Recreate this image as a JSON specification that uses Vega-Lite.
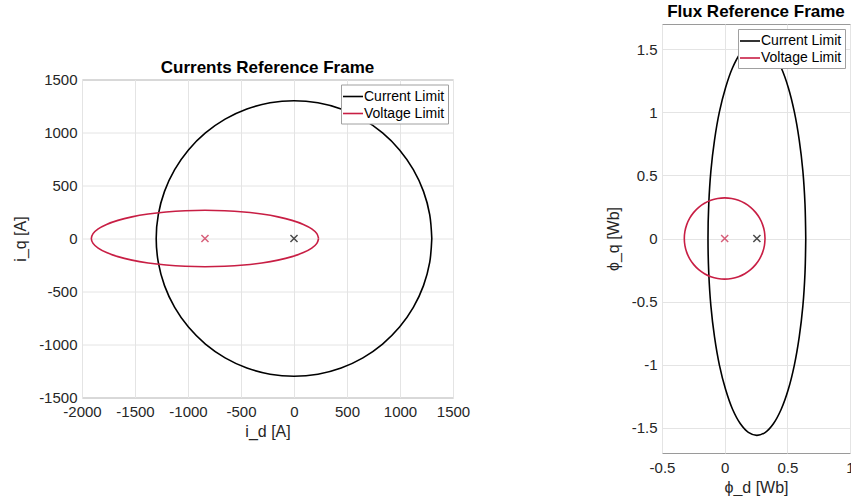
{
  "$schema": "https://vega.github.io/schema/vega-lite/v6.json",
  "padding": {"left": 12, "top": 2, "right": 0, "bottom": 0},
  "background": "white",
  "config": {
    "font": "Liberation Sans",
    "view": {"stroke": "#9a9a9a", "strokeWidth": 1},
    "axis": {
      "grid": true, "gridColor": "#e4e4e4", "gridWidth": 1,
      "domain": false, "ticks": false, "labelOverlap": false, "labelFlush": false,
      "labelFont": "Liberation Sans", "labelFontSize": 15, "labelColor": "#262626",
      "titleFont": "Liberation Sans", "titleFontSize": 16, "titleFontWeight": "normal", "titleColor": "#262626",
      "labelExpr": "toString(datum.value)"
    },
    "title": {"font": "Liberation Sans", "fontSize": 17, "fontWeight": "bold", "color": "#000000", "anchor": "middle", "offset": 3},
    "legend": {
      "orient": "top-right", "offset": 5, "fillColor": "white", "strokeColor": "#a0a0a0",
      "padding": 3, "rowPadding": 1, "labelFont": "Liberation Sans", "labelFontSize": 14, "labelColor": "#000000",
      "symbolType": "M-1.25,0L1.25,0", "symbolSize": 256, "symbolStrokeWidth": 1.6, "labelOffset": 2, "title": null
    }
  },
  "datasets": {
    "leftLines": [
      {"series": "Current Limit", "k": 0, "x": 1300, "y": 0},
      {"series": "Current Limit", "k": 1, "x": 1280.2, "y": 225.7},
      {"series": "Current Limit", "k": 2, "x": 1221.6, "y": 444.6},
      {"series": "Current Limit", "k": 3, "x": 1125.8, "y": 650},
      {"series": "Current Limit", "k": 4, "x": 995.8, "y": 835.6},
      {"series": "Current Limit", "k": 5, "x": 835.6, "y": 995.8},
      {"series": "Current Limit", "k": 6, "x": 650, "y": 1125.8},
      {"series": "Current Limit", "k": 7, "x": 444.6, "y": 1221.6},
      {"series": "Current Limit", "k": 8, "x": 225.7, "y": 1280.2},
      {"series": "Current Limit", "k": 9, "x": 0, "y": 1300},
      {"series": "Current Limit", "k": 10, "x": -225.7, "y": 1280.2},
      {"series": "Current Limit", "k": 11, "x": -444.6, "y": 1221.6},
      {"series": "Current Limit", "k": 12, "x": -650, "y": 1125.8},
      {"series": "Current Limit", "k": 13, "x": -835.6, "y": 995.8},
      {"series": "Current Limit", "k": 14, "x": -995.8, "y": 835.6},
      {"series": "Current Limit", "k": 15, "x": -1125.8, "y": 650},
      {"series": "Current Limit", "k": 16, "x": -1221.6, "y": 444.6},
      {"series": "Current Limit", "k": 17, "x": -1280.2, "y": 225.7},
      {"series": "Current Limit", "k": 18, "x": -1300, "y": 0},
      {"series": "Current Limit", "k": 19, "x": -1280.2, "y": -225.7},
      {"series": "Current Limit", "k": 20, "x": -1221.6, "y": -444.6},
      {"series": "Current Limit", "k": 21, "x": -1125.8, "y": -650},
      {"series": "Current Limit", "k": 22, "x": -995.8, "y": -835.6},
      {"series": "Current Limit", "k": 23, "x": -835.6, "y": -995.8},
      {"series": "Current Limit", "k": 24, "x": -650, "y": -1125.8},
      {"series": "Current Limit", "k": 25, "x": -444.6, "y": -1221.6},
      {"series": "Current Limit", "k": 26, "x": -225.7, "y": -1280.2},
      {"series": "Current Limit", "k": 27, "x": 0, "y": -1300},
      {"series": "Current Limit", "k": 28, "x": 225.7, "y": -1280.2},
      {"series": "Current Limit", "k": 29, "x": 444.6, "y": -1221.6},
      {"series": "Current Limit", "k": 30, "x": 650, "y": -1125.8},
      {"series": "Current Limit", "k": 31, "x": 835.6, "y": -995.8},
      {"series": "Current Limit", "k": 32, "x": 995.8, "y": -835.6},
      {"series": "Current Limit", "k": 33, "x": 1125.8, "y": -650},
      {"series": "Current Limit", "k": 34, "x": 1221.6, "y": -444.6},
      {"series": "Current Limit", "k": 35, "x": 1280.2, "y": -225.7},
      {"series": "Current Limit", "k": 36, "x": 1300, "y": 0},
      {"series": "Voltage Limit", "k": 0, "x": 232, "y": 0},
      {"series": "Voltage Limit", "k": 1, "x": 215.7, "y": 46.2},
      {"series": "Voltage Limit", "k": 2, "x": 167.4, "y": 91},
      {"series": "Voltage Limit", "k": 3, "x": 88.4, "y": 133},
      {"series": "Voltage Limit", "k": 4, "x": -18.8, "y": 171},
      {"series": "Voltage Limit", "k": 5, "x": -150.9, "y": 203.8},
      {"series": "Voltage Limit", "k": 6, "x": -304, "y": 230.4},
      {"series": "Voltage Limit", "k": 7, "x": -473.4, "y": 250},
      {"series": "Voltage Limit", "k": 8, "x": -653.9, "y": 262},
      {"series": "Voltage Limit", "k": 9, "x": -840, "y": 266},
      {"series": "Voltage Limit", "k": 10, "x": -1026.1, "y": 262},
      {"series": "Voltage Limit", "k": 11, "x": -1206.6, "y": 250},
      {"series": "Voltage Limit", "k": 12, "x": -1376, "y": 230.4},
      {"series": "Voltage Limit", "k": 13, "x": -1529.1, "y": 203.8},
      {"series": "Voltage Limit", "k": 14, "x": -1661.2, "y": 171},
      {"series": "Voltage Limit", "k": 15, "x": -1768.4, "y": 133},
      {"series": "Voltage Limit", "k": 16, "x": -1847.4, "y": 91},
      {"series": "Voltage Limit", "k": 17, "x": -1895.7, "y": 46.2},
      {"series": "Voltage Limit", "k": 18, "x": -1912, "y": 0},
      {"series": "Voltage Limit", "k": 19, "x": -1895.7, "y": -46.2},
      {"series": "Voltage Limit", "k": 20, "x": -1847.4, "y": -91},
      {"series": "Voltage Limit", "k": 21, "x": -1768.4, "y": -133},
      {"series": "Voltage Limit", "k": 22, "x": -1661.2, "y": -171},
      {"series": "Voltage Limit", "k": 23, "x": -1529.1, "y": -203.8},
      {"series": "Voltage Limit", "k": 24, "x": -1376, "y": -230.4},
      {"series": "Voltage Limit", "k": 25, "x": -1206.6, "y": -250},
      {"series": "Voltage Limit", "k": 26, "x": -1026.1, "y": -262},
      {"series": "Voltage Limit", "k": 27, "x": -840, "y": -266},
      {"series": "Voltage Limit", "k": 28, "x": -653.9, "y": -262},
      {"series": "Voltage Limit", "k": 29, "x": -473.4, "y": -250},
      {"series": "Voltage Limit", "k": 30, "x": -304, "y": -230.4},
      {"series": "Voltage Limit", "k": 31, "x": -150.9, "y": -203.8},
      {"series": "Voltage Limit", "k": 32, "x": -18.8, "y": -171},
      {"series": "Voltage Limit", "k": 33, "x": 88.4, "y": -133},
      {"series": "Voltage Limit", "k": 34, "x": 167.4, "y": -91},
      {"series": "Voltage Limit", "k": 35, "x": 215.7, "y": -46.2},
      {"series": "Voltage Limit", "k": 36, "x": 232, "y": 0}
    ],
    "leftMarks": [
      {"series": "Current Limit", "x": 0, "y": 0},
      {"series": "Voltage Limit", "x": -840, "y": 0}
    ],
    "rightLines": [
      {"series": "Current Limit", "k": 0, "x": 0.647, "y": 0},
      {"series": "Current Limit", "k": 1, "x": 0.641, "y": 0.271},
      {"series": "Current Limit", "k": 2, "x": 0.624, "y": 0.534},
      {"series": "Current Limit", "k": 3, "x": 0.595, "y": 0.78},
      {"series": "Current Limit", "k": 4, "x": 0.556, "y": 1.003},
      {"series": "Current Limit", "k": 5, "x": 0.508, "y": 1.195},
      {"series": "Current Limit", "k": 6, "x": 0.452, "y": 1.351},
      {"series": "Current Limit", "k": 7, "x": 0.39, "y": 1.466},
      {"series": "Current Limit", "k": 8, "x": 0.325, "y": 1.536},
      {"series": "Current Limit", "k": 9, "x": 0.257, "y": 1.56},
      {"series": "Current Limit", "k": 10, "x": 0.189, "y": 1.536},
      {"series": "Current Limit", "k": 11, "x": 0.124, "y": 1.466},
      {"series": "Current Limit", "k": 12, "x": 0.062, "y": 1.351},
      {"series": "Current Limit", "k": 13, "x": 0.007, "y": 1.195},
      {"series": "Current Limit", "k": 14, "x": -0.042, "y": 1.003},
      {"series": "Current Limit", "k": 15, "x": -0.081, "y": 0.78},
      {"series": "Current Limit", "k": 16, "x": -0.11, "y": 0.534},
      {"series": "Current Limit", "k": 17, "x": -0.127, "y": 0.271},
      {"series": "Current Limit", "k": 18, "x": -0.133, "y": 0},
      {"series": "Current Limit", "k": 19, "x": -0.127, "y": -0.271},
      {"series": "Current Limit", "k": 20, "x": -0.11, "y": -0.534},
      {"series": "Current Limit", "k": 21, "x": -0.081, "y": -0.78},
      {"series": "Current Limit", "k": 22, "x": -0.042, "y": -1.003},
      {"series": "Current Limit", "k": 23, "x": 0.007, "y": -1.195},
      {"series": "Current Limit", "k": 24, "x": 0.062, "y": -1.351},
      {"series": "Current Limit", "k": 25, "x": 0.124, "y": -1.466},
      {"series": "Current Limit", "k": 26, "x": 0.189, "y": -1.536},
      {"series": "Current Limit", "k": 27, "x": 0.257, "y": -1.56},
      {"series": "Current Limit", "k": 28, "x": 0.325, "y": -1.536},
      {"series": "Current Limit", "k": 29, "x": 0.39, "y": -1.466},
      {"series": "Current Limit", "k": 30, "x": 0.452, "y": -1.351},
      {"series": "Current Limit", "k": 31, "x": 0.508, "y": -1.195},
      {"series": "Current Limit", "k": 32, "x": 0.556, "y": -1.003},
      {"series": "Current Limit", "k": 33, "x": 0.595, "y": -0.78},
      {"series": "Current Limit", "k": 34, "x": 0.624, "y": -0.534},
      {"series": "Current Limit", "k": 35, "x": 0.641, "y": -0.271},
      {"series": "Current Limit", "k": 36, "x": 0.647, "y": 0},
      {"series": "Voltage Limit", "k": 0, "x": 0.322, "y": 0},
      {"series": "Voltage Limit", "k": 1, "x": 0.3171, "y": 0.0559},
      {"series": "Voltage Limit", "k": 2, "x": 0.3026, "y": 0.1101},
      {"series": "Voltage Limit", "k": 3, "x": 0.2789, "y": 0.161},
      {"series": "Voltage Limit", "k": 4, "x": 0.2467, "y": 0.207},
      {"series": "Voltage Limit", "k": 5, "x": 0.207, "y": 0.2467},
      {"series": "Voltage Limit", "k": 6, "x": 0.161, "y": 0.2789},
      {"series": "Voltage Limit", "k": 7, "x": 0.1101, "y": 0.3026},
      {"series": "Voltage Limit", "k": 8, "x": 0.0559, "y": 0.3171},
      {"series": "Voltage Limit", "k": 9, "x": 0, "y": 0.322},
      {"series": "Voltage Limit", "k": 10, "x": -0.0559, "y": 0.3171},
      {"series": "Voltage Limit", "k": 11, "x": -0.1101, "y": 0.3026},
      {"series": "Voltage Limit", "k": 12, "x": -0.161, "y": 0.2789},
      {"series": "Voltage Limit", "k": 13, "x": -0.207, "y": 0.2467},
      {"series": "Voltage Limit", "k": 14, "x": -0.2467, "y": 0.207},
      {"series": "Voltage Limit", "k": 15, "x": -0.2789, "y": 0.161},
      {"series": "Voltage Limit", "k": 16, "x": -0.3026, "y": 0.1101},
      {"series": "Voltage Limit", "k": 17, "x": -0.3171, "y": 0.0559},
      {"series": "Voltage Limit", "k": 18, "x": -0.322, "y": 0},
      {"series": "Voltage Limit", "k": 19, "x": -0.3171, "y": -0.0559},
      {"series": "Voltage Limit", "k": 20, "x": -0.3026, "y": -0.1101},
      {"series": "Voltage Limit", "k": 21, "x": -0.2789, "y": -0.161},
      {"series": "Voltage Limit", "k": 22, "x": -0.2467, "y": -0.207},
      {"series": "Voltage Limit", "k": 23, "x": -0.207, "y": -0.2467},
      {"series": "Voltage Limit", "k": 24, "x": -0.161, "y": -0.2789},
      {"series": "Voltage Limit", "k": 25, "x": -0.1101, "y": -0.3026},
      {"series": "Voltage Limit", "k": 26, "x": -0.0559, "y": -0.3171},
      {"series": "Voltage Limit", "k": 27, "x": 0, "y": -0.322},
      {"series": "Voltage Limit", "k": 28, "x": 0.0559, "y": -0.3171},
      {"series": "Voltage Limit", "k": 29, "x": 0.1101, "y": -0.3026},
      {"series": "Voltage Limit", "k": 30, "x": 0.161, "y": -0.2789},
      {"series": "Voltage Limit", "k": 31, "x": 0.207, "y": -0.2467},
      {"series": "Voltage Limit", "k": 32, "x": 0.2467, "y": -0.207},
      {"series": "Voltage Limit", "k": 33, "x": 0.2789, "y": -0.161},
      {"series": "Voltage Limit", "k": 34, "x": 0.3026, "y": -0.1101},
      {"series": "Voltage Limit", "k": 35, "x": 0.3171, "y": -0.0559},
      {"series": "Voltage Limit", "k": 36, "x": 0.322, "y": 0}
    ],
    "rightMarks": [
      {"series": "Current Limit", "x": 0.257, "y": 0},
      {"series": "Voltage Limit", "x": 0, "y": 0}
    ]
  },
  "hconcat": [
    {
      "width": 371, "height": 318,
      "title": {"text": "Currents Reference Frame", "offset": -4},
      "layer": [
        {"mark": {"type": "rule", "color": "#262626", "strokeWidth": 1}, "encoding": {"x": {"datum": 0, "type": "quantitative", "scale": {"domain": [-2000, 1500], "nice": false}}}},
        {"mark": {"type": "rule", "color": "#262626", "strokeWidth": 1}, "encoding": {"y": {"datum": 0, "type": "quantitative", "scale": {"domain": [-1500, 1500], "nice": false}}}},
        {
          "data": {"name": "leftLines"},
          "mark": {"type": "line", "strokeWidth": 1.6, "interpolate": "catmull-rom"},
          "encoding": {
            "x": {"field": "x", "type": "quantitative", "scale": {"domain": [-2000, 1500], "nice": false, "zero": false},
                  "axis": {"values": [-2000, -1500, -1000, -500, 0, 500, 1000, 1500], "title": "i_d [A]", "labelPadding": 7, "titlePadding": 4}},
            "y": {"field": "y", "type": "quantitative", "scale": {"domain": [-1500, 1500], "nice": false, "zero": false},
                  "axis": {"values": [-1500, -1000, -500, 0, 500, 1000, 1500], "title": "i_q [A]", "labelPadding": 5, "titlePadding": 10}},
            "color": {"field": "series", "type": "nominal", "scale": {"domain": ["Current Limit", "Voltage Limit"], "range": ["#000000", "#C81E44"]}, "legend": {}},
            "detail": {"field": "series"},
            "order": {"field": "k", "type": "quantitative"}
          }
        },
        {
          "data": {"name": "leftMarks"},
          "mark": {"type": "point", "shape": "M-1,-1L1,1M-1,1L1,-1", "filled": false, "size": 50, "strokeWidth": 1.5},
          "encoding": {
            "x": {"field": "x", "type": "quantitative"},
            "y": {"field": "y", "type": "quantitative"},
            "stroke": {"field": "series", "type": "nominal", "scale": {"domain": ["Current Limit", "Voltage Limit"], "range": ["#000000", "#C81E44"]}, "legend": null}
          }
        }
      ]
    },
    {
      "width": 188, "height": 429,
      "title": {"text": "Flux Reference Frame", "offset": 3},
      "layer": [
        {"mark": {"type": "rule", "color": "#262626", "strokeWidth": 1}, "encoding": {"x": {"datum": 0, "type": "quantitative", "scale": {"domain": [-0.5, 1], "nice": false}}}},
        {"mark": {"type": "rule", "color": "#262626", "strokeWidth": 1}, "encoding": {"y": {"datum": 0, "type": "quantitative", "scale": {"domain": [-1.7, 1.7], "nice": false}}}},
        {
          "data": {"name": "rightLines"},
          "mark": {"type": "line", "strokeWidth": 1.6, "interpolate": "catmull-rom"},
          "encoding": {
            "x": {"field": "x", "type": "quantitative", "scale": {"domain": [-0.5, 1], "nice": false, "zero": false},
                  "axis": {"values": [-0.5, 0, 0.5, 1], "title": "ϕ_d [Wb]", "labelPadding": 7, "titlePadding": 4}},
            "y": {"field": "y", "type": "quantitative", "scale": {"domain": [-1.7, 1.7], "nice": false, "zero": false},
                  "axis": {"values": [-1.5, -1, -0.5, 0, 0.5, 1, 1.5], "title": "ϕ_q [Wb]", "labelPadding": 5, "titlePadding": 10}},
            "color": {"field": "series", "type": "nominal", "scale": {"domain": ["Current Limit", "Voltage Limit"], "range": ["#000000", "#C81E44"]}, "legend": {}},
            "detail": {"field": "series"},
            "order": {"field": "k", "type": "quantitative"}
          }
        },
        {
          "data": {"name": "rightMarks"},
          "mark": {"type": "point", "shape": "M-1,-1L1,1M-1,1L1,-1", "filled": false, "size": 50, "strokeWidth": 1.5},
          "encoding": {
            "x": {"field": "x", "type": "quantitative"},
            "y": {"field": "y", "type": "quantitative"},
            "stroke": {"field": "series", "type": "nominal", "scale": {"domain": ["Current Limit", "Voltage Limit"], "range": ["#000000", "#C81E44"]}, "legend": null}
          }
        }
      ]
    }
  ],
  "spacing": 209,
  "bounds": "flush",
  "center": true,
  "resolve": {"scale": {"color": "independent", "stroke": "independent"}, "legend": {"color": "independent", "stroke": "independent"}}
}
